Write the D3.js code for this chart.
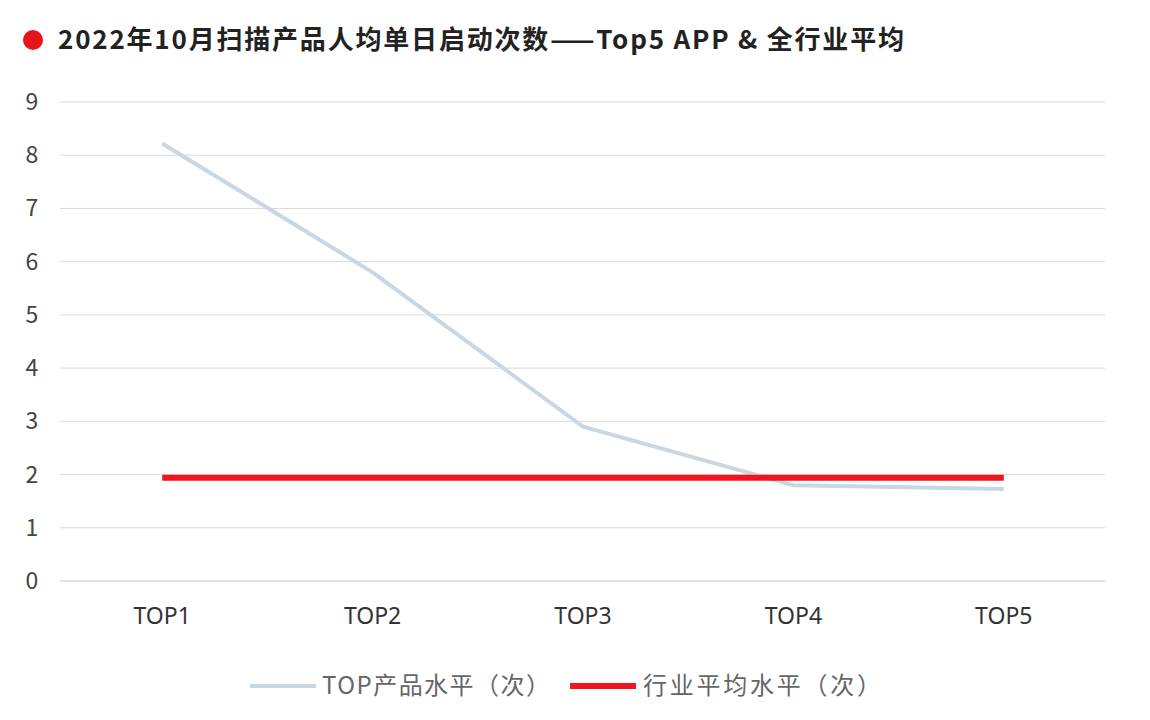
<!DOCTYPE html>
<html>
<head>
<meta charset="utf-8">
<script src="https://cdn.jsdelivr.net/npm/d3@7"></script>
<style>
body { margin: 0; background: #fff; }
svg { font-family: "Noto Sans CJK SC", "Noto Sans", sans-serif; }
</style>
</head>
<body>
<svg id="chart" width="1150" height="720"></svg>
<script>
const categories = ['TOP1', 'TOP2', 'TOP3', 'TOP4', 'TOP5'];
const topValues = [8.22, 5.8, 2.9, 1.8, 1.73];
const avgValues = [1.94, 1.94, 1.94, 1.94, 1.94];
const yTicks = [0, 1, 2, 3, 4, 5, 6, 7, 8, 9];
const seriesNames = ['TOP产品水平（次）', '行业平均水平（次）'];

const svg = d3.select('#chart');

//title
svg.append('circle').attr('cx', 33).attr('cy', 40).attr('r', 10).style('fill', '#e8141b');
svg.append('text').attr('x', 58).attr('y', 49).text('2022年10月扫描产品人均单日启动次数——Top5 APP & 全行业平均')
	.attr('textLength', 846).style('font-size', '26px').style('font-weight', 'bold').style('fill', '#222');

let x = d3.scaleBand().domain(categories).range([57, 1109]);
let y = d3.scaleLinear().domain([0, 9]).range([581, 102]);

//grid + y labels
yTicks.forEach(function(t) {
	svg.append('line').attr('x1', 60).attr('x2', 1105).attr('y1', y(t)).attr('y2', y(t))
		.style('stroke', t === 0 ? '#c8c8c8' : '#d9d9d9').style('stroke-width', 1);
	svg.append('text').attr('x', 32).attr('y', y(t)).attr('dy', '.35em').attr('text-anchor', 'middle')
		.text(t).style('font-size', '23px').style('fill', '#444');
});

let xAxis = svg.append('g').attr('transform', 'translate(0,581)')
	.call(d3.axisBottom(x).tickSize(0).tickPadding(27));
xAxis.select('.domain').remove();
xAxis.selectAll('text').style('font-size', '23px').style('fill', '#333').style('font-family', '"Noto Sans", sans-serif');

let line = d3.line()
	.x(function(d, i) { return x(categories[i]) + x.bandwidth() / 2; })
	.y(function(d) { return y(d); });

svg.append('path').attr('d', line(topValues)).style('fill', 'none').style('stroke', '#c9d7e2').style('stroke-width', 4);
svg.append('path').attr('d', line(avgValues)).style('fill', 'none').style('stroke', '#f0141e').style('stroke-width', 6);

//legend
svg.append('line').attr('x1', 250).attr('x2', 316).attr('y1', 686).attr('y2', 686).style('stroke', '#c9d7e2').style('stroke-width', 4);
svg.append('text').attr('x', 322).attr('y', 686).attr('dy', '.35em').text(seriesNames[0]).attr('textLength', 228).style('font-size', '24px').style('fill', '#666');
svg.append('line').attr('x1', 570).attr('x2', 636).attr('y1', 686).attr('y2', 686).style('stroke', '#f0141e').style('stroke-width', 6);
svg.append('text').attr('x', 643).attr('y', 686).attr('dy', '.35em').text(seriesNames[1]).attr('textLength', 238).style('font-size', '24px').style('fill', '#666');
</script>
</body>
</html>
